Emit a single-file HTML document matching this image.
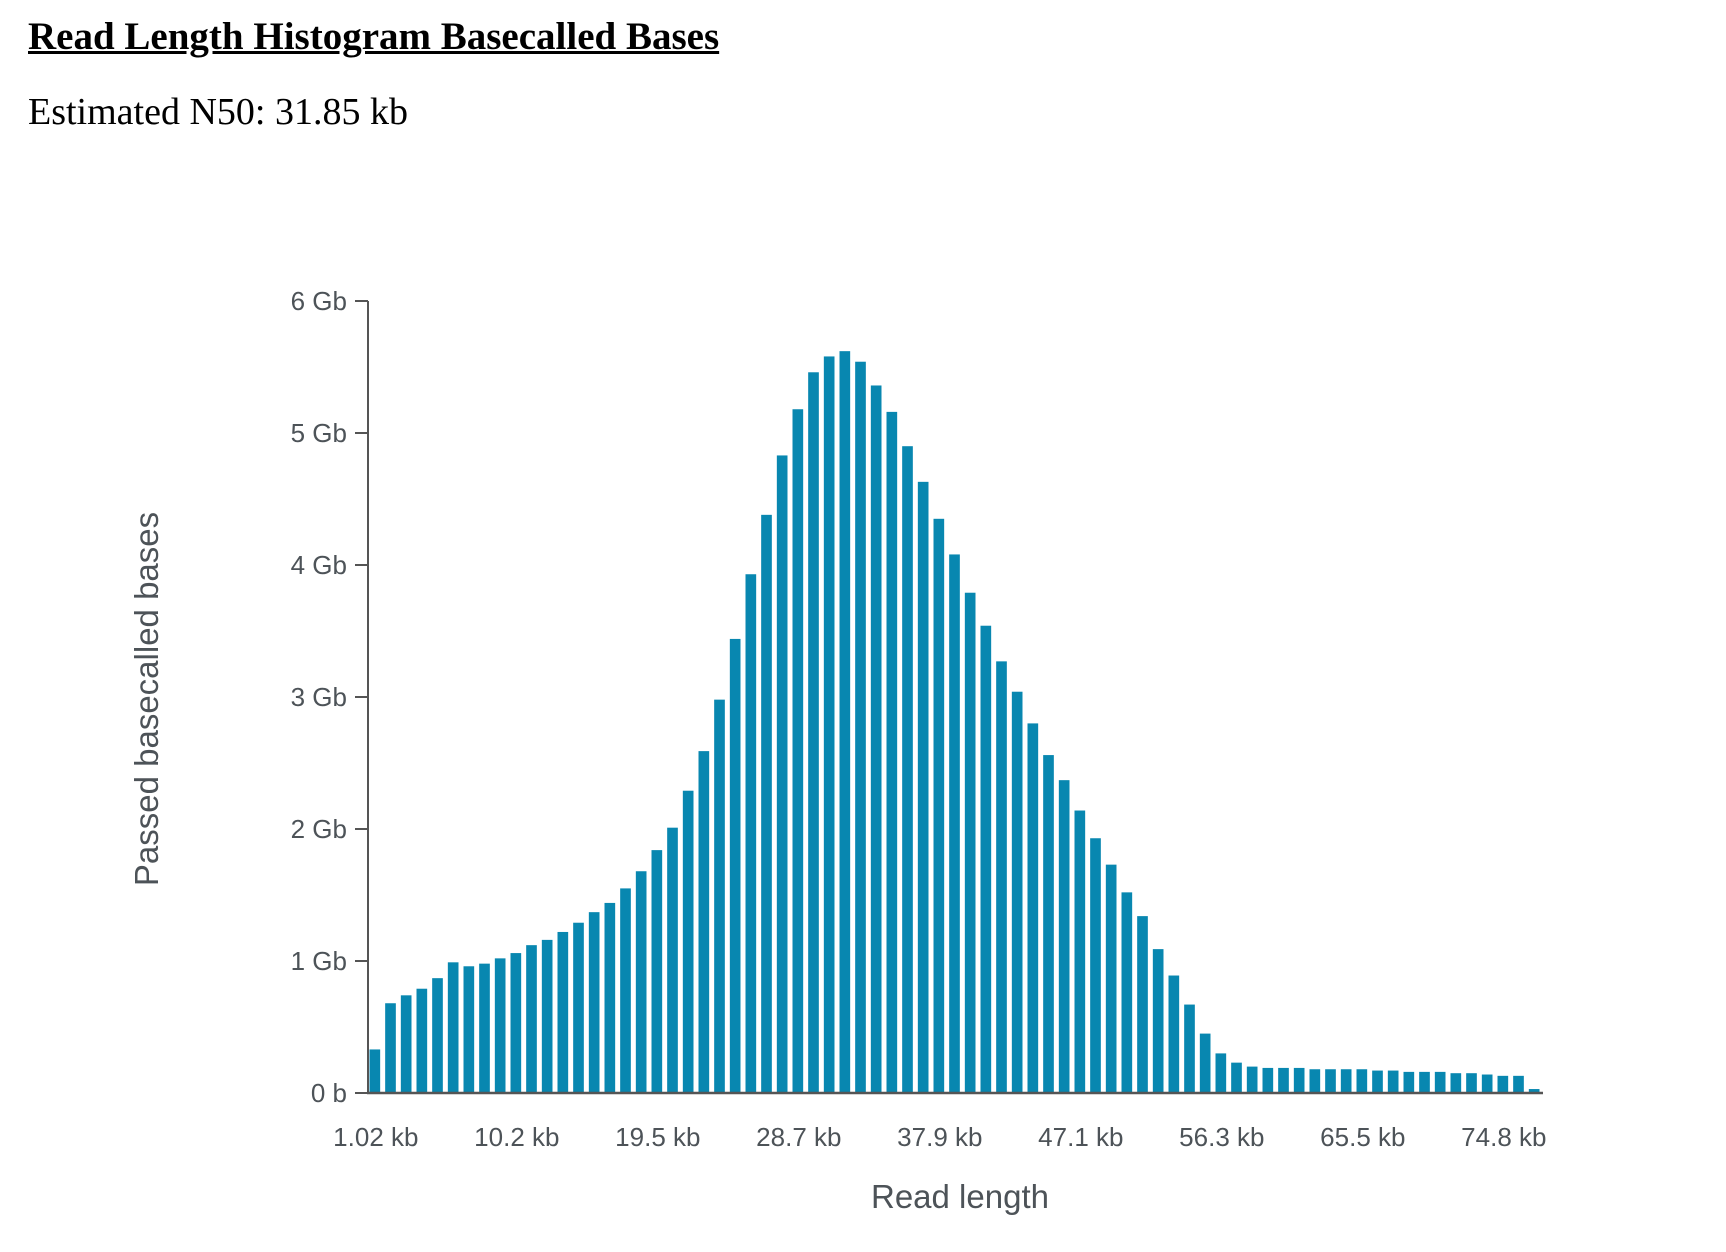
<!DOCTYPE html>
<html><head><meta charset="utf-8"><style>
html,body{margin:0;padding:0;background:#fff;width:1726px;height:1252px;overflow:hidden}
h3{position:absolute;left:28px;top:14px;margin:0;font:bold 39px "Liberation Serif",serif;text-decoration:underline;color:#000}
p{position:absolute;left:28px;top:90px;margin:0;font:38px "Liberation Serif",serif;color:#000}
svg{position:absolute;left:0;top:0}
text{font-family:"Liberation Sans",sans-serif;fill:#4d5358}
</style></head><body>
<h3>Read Length Histogram Basecalled Bases</h3>
<p>Estimated N50: 31.85 kb</p>
<svg id="chart" width="1726" height="1252"></svg>
<script>
const values=[0.33,0.68,0.74,0.79,0.87,0.99,0.96,0.98,1.02,1.06,1.12,1.16,1.22,1.29,1.37,1.44,1.55,1.68,1.84,2.01,2.29,2.59,2.98,3.44,3.93,4.38,4.83,5.18,5.46,5.58,5.62,5.54,5.36,5.16,4.90,4.63,4.35,4.08,3.79,3.54,3.27,3.04,2.80,2.56,2.37,2.14,1.93,1.73,1.52,1.34,1.09,0.89,0.67,0.45,0.30,0.23,0.20,0.19,0.19,0.19,0.18,0.18,0.18,0.18,0.17,0.17,0.16,0.16,0.16,0.15,0.15,0.14,0.13,0.13,0.03];
const yTicks=[0,1,2,3,4,5,6];
const yTickLabels=["0 b","1 Gb","2 Gb","3 Gb","4 Gb","5 Gb","6 Gb"];
const xTickIndex=[0,9,18,27,36,45,54,63,72];
const xTickLabels=["1.02 kb","10.2 kb","19.5 kb","28.7 kb","37.9 kb","47.1 kb","56.3 kb","65.5 kb","74.8 kb"];
const NS="http://www.w3.org/2000/svg";
const svg=document.getElementById('chart');
const x0=368,x1=1543,yBase=1093,yTop=301,yMax=6;
const pitch=(x1-x0)/values.length;
const y=v=>yBase-(v/yMax)*(yBase-yTop);
const xb=i=>x0+i*pitch;
function mk(t,a){const e=document.createElementNS(NS,t);for(const k in a)e.setAttribute(k,a[k]);svg.appendChild(e);return e;}
values.forEach((v,i)=>{
 const r=mk('rect',{x:xb(i)+1.5,y:y(v),width:pitch-5,height:yBase-y(v),fill:'#0887b0'});
 
 
});
const ya=mk('line',{x1:x0,y1:yTop,x2:x0,y2:yBase,stroke:'#555',"stroke-width":2});


const xa=mk('line',{x1:x0-1,y1:yBase,x2:x1,y2:yBase,stroke:'#555',"stroke-width":2.5});


yTicks.forEach((v,i)=>{
 const l=mk('line',{x1:x0-13,y1:y(v),x2:x0,y2:y(v),stroke:'#555',"stroke-width":2});
 
 
 const t=mk('text',{x:x0-21,y:y(v)+9,"text-anchor":"end","font-size":26});
 t.textContent=yTickLabels[i];
 
 
});
xTickIndex.forEach((idx,i)=>{
 const t=mk('text',{x:xb(idx)+pitch/2,y:1146,"text-anchor":"middle","font-size":26});
 t.textContent=xTickLabels[i];
 
 
});
const xt=mk('text',{x:960,y:1208,"text-anchor":"middle","font-size":33});
xt.textContent='Read length';


const yt=mk('text',{x:0,y:0,"text-anchor":"middle","font-size":33,transform:'translate(158,699) rotate(-90)'});
yt.textContent='Passed basecalled bases';


</script>
</body></html>
